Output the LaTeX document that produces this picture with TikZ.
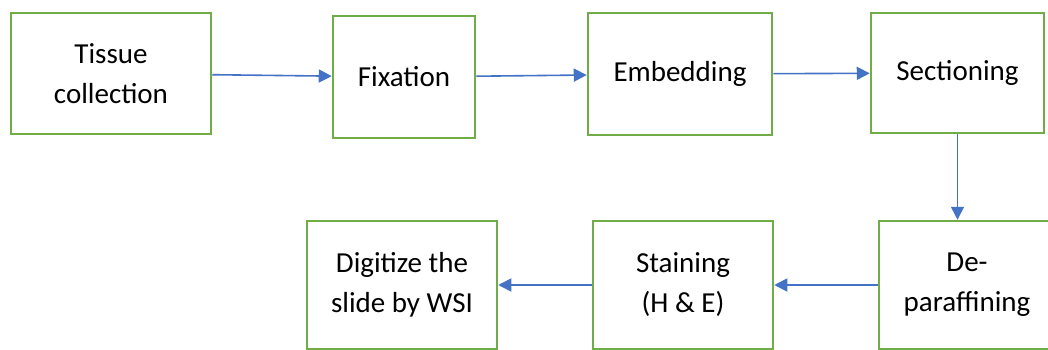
\documentclass[tikz,border=0pt]{standalone}
\usepackage{fontspec}
\setmainfont{Carlito}
\usetikzlibrary{arrows.meta}
\definecolor{boxgreen}{RGB}{112,173,71}
\definecolor{flowblue}{RGB}{68,114,196}
\begin{document}
\begin{tikzpicture}[x=1pt,y=-1pt,
		stepbox/.style={draw=boxgreen,line width=2.5pt,fill=white,align=center,inner sep=0pt,font=\fontsize{29}{40}\selectfont},
		flow/.style={draw=flowblue,line width=1.6pt,-{Triangle[length=13pt,width=13pt]}}]
		\useasboundingbox (0,0) rectangle (1048,350);
		\clip (0,0) rectangle (1048,350);
		\fill[white] (0,0) rectangle (1048,350);
		\foreach \name/\x/\y/\w/\h/\txt in {tissue/111/73.5/200/121/Tissue\\collection, fix/404/77/142/122/Fixation, emb/680/74/184/122/Embedding, sec/957.5/73/173/120/Sectioning, dep/967/285/176/128/De-\\paraffining, stain/683/285/180/128/Staining\\(H \& E), digi/402/285/190/128/Digitize the\\slide by WSI}{
			\node[stepbox,minimum width=\w pt,minimum height=\h pt] (\name) at (\x,\y) {\txt};
		}
		\draw[flow] (tissue) -- (fix);
		\draw[flow] (fix) -- (emb);
		\draw[flow] (emb) -- (sec);
		\draw[flow] (sec.south) -- (sec.south |- dep.north);
		\draw[flow] (dep) -- (stain);
		\draw[flow] (stain) -- (digi);
	\end{tikzpicture}
\end{document}
